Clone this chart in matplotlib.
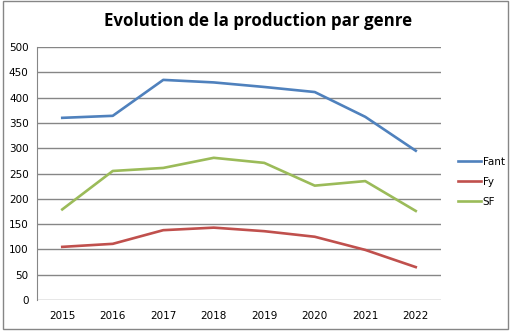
import numpy as np
from matplotlib import pyplot as plt
from matplotlib.patches import Rectangle

years = ['2015', '2016', '2017', '2018', '2019', '2020', '2021', '2022']
fant = [360, 364, 435, 430, 421, 411, 362, 295]
fy = [105, 111, 138, 143, 136, 125, 99, 65]
sf = [179, 255, 261, 281, 271, 226, 235, 176]

W, H = 516, 331
fig = plt.figure(figsize=(W / 100, H / 100), dpi=100)
ax = fig.add_axes([37 / W, 1 - 300 / H, (441 - 37) / W, (300 - 47) / H])

x = np.arange(len(years))
ax.plot(x, fant, color='#4F81BD', lw=1.9, label='Fant')
ax.plot(x, fy, color='#C0504D', lw=1.9, label='Fy')
ax.plot(x, sf, color='#9BBB59', lw=1.9, label='SF')

ax.set_xlim(-0.5, len(years) - 0.5)
ax.set_ylim(0, 500)
ax.set_yticks(np.arange(0, 501, 50))
ax.set_xticks(x)
ax.set_xticklabels(years)
ax.yaxis.grid(True, color='#868686', lw=1)
ax.set_axisbelow(True)
for s in ['top', 'right', 'bottom']:
    ax.spines[s].set_visible(False)
ax.spines['left'].set_color('#868686')
ax.tick_params(length=0, labelsize=7.5, colors='black')
ax.tick_params(axis='x', pad=8)
ax.tick_params(axis='y', pad=6)

fig.text(0.5, 1 - 21 / H, 'Evolution de la production par genre', ha='center', va='center',
         fontsize=12.2, fontweight='bold', family='Open Sans')

ax.legend(loc='center left', bbox_to_anchor=(449 / W, 1 - 182 / H), bbox_transform=fig.transFigure,
          frameon=False, fontsize=7.5, handlelength=2.2, handletextpad=0.15, labelspacing=0.95)

fig.patches.append(Rectangle((3 / W, 1 - 329 / H), 505 / W, 328 / H, transform=fig.transFigure,
                             fill=False, edgecolor='#868686', lw=1))

fig.savefig('out.png', dpi=100)
